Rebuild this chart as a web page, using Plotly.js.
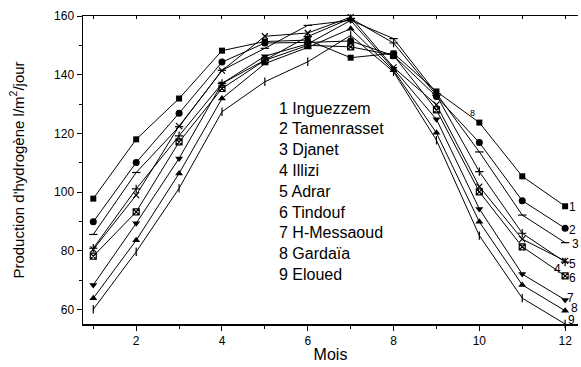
<!DOCTYPE html>
<html>
<head>
<meta charset="utf-8">
<script src="https://cdn.plot.ly/plotly-3.0.1.min.js"></script>
<style>html,body{margin:0;padding:0;background:#fff;}#chart{width:581px;height:367px;}</style>
</head>
<body>
<div id="chart"></div>
<script>
const months = [1,2,3,4,5,6,7,8,9,10,11,12];
const seriesNames = ["1 Inguezzem","2 Tamenrasset","3 Djanet","4 Illizi","5 Adrar","6 Tindouf","7 H-Messaoud","8 Gardaïa","9 Eloued"];
const inguezzem   = [97.8,118.0,131.9,148.2,151.3,151.8,145.8,147.3,134.3,123.7,105.4,95.2];
const tamenrasset = [89.9,110.1,126.9,144.3,150.8,151.0,151.5,146.5,132.6,116.9,97.1,87.7];
const djanet      = [85.6,106.7,122.3,141.5,149.0,156.8,158.5,152.3,133.6,113.7,92.2,82.8];
const illizi      = [80.9,101.1,119.2,137.0,145.0,153.0,159.2,150.8,133.0,107.0,86.0,76.2];
const adrar       = [80.5,99.0,122.5,141.4,153.1,154.2,159.6,142.5,129.8,101.9,84.0,76.6];
const tindouf     = [78.2,93.3,117.1,135.3,144.9,150.0,149.5,146.6,128.0,100.1,81.4,71.5];
const hmessaoud   = [68.4,89.4,111.5,137.0,146.3,150.5,158.5,142.0,124.8,94.3,72.1,63.3];
const gardaia     = [63.9,83.6,106.4,131.9,143.8,149.3,155.7,141.5,120.2,89.9,68.4,59.6];
const eloued      = [60.1,79.7,101.3,127.4,137.6,144.4,153.4,141.0,117.7,85.2,63.9,55.1];
const endLabels = ["1","2","3","4","5","6","7","8","9"];
const xTickVals = [2,4,6,8,10,12];
const yTickVals = [60,80,100,120,140,160];

const allSeries = [inguezzem,tamenrasset,djanet,illizi,adrar,tindouf,hmessaoud,gardaia,eloued];
const symbols = ["square","circle","line-ew","cross-thin","x-thin","square-x-open","triangle-down","triangle-up","line-ns"];
const sizes = [6,7,6,6,6,6,7,7,6];

const traces = allSeries.map((ys,i)=>({
  x: months, y: ys, type:'scatter', mode:'lines+markers', name: seriesNames[i],
  line:{color:'#000', width:1},
  marker:{symbol:symbols[i], size:sizes[i], color:'#000', line:{color:'#000', width:(i>=2&&i<=5)||i===8?1.2:0}},
  showlegend:false, cliponaxis:false
}));
traces.push({x:[1], y:[100], xaxis:'x2', type:'scatter', mode:'markers', marker:{opacity:0}, showlegend:false, hoverinfo:'skip'});

const annotations = [];
// legend block as text
seriesNames.forEach((n,i)=>{
  annotations.push({xref:'paper', yref:'paper', x:(277-83)/495, y:1-((108+i*20.8)-16)/308, text:n, showarrow:false, xanchor:'left', yanchor:'middle', font:{family:'Liberation Sans, Arial, sans-serif', size:16, color:'#000'}});
});
// end labels
const shifts = [[7,-1],[7,-2],[10,-1],[-8,-7],[7,-3],[7,-2],[5,2],[9,3],[6,4]];
endLabels.forEach((t,i)=>{
  annotations.push({xref:'x', yref:'y', x:12, y:allSeries[i][11], text:t, showarrow:false, xanchor:'center', yanchor:'middle', xshift:shifts[i][0], yshift:shifts[i][1], font:{family:'Liberation Sans, Arial, sans-serif', size:12, color:'#000'}});
});
// stray label near month 10
annotations.push({xref:'x', yref:'y', x:9.85, y:126.8, text:'8', showarrow:false, font:{family:'Liberation Sans, Arial, sans-serif', size:9, color:'#000'}});

const layout = {
  width:581, height:367,
  margin:{l:83, r:3, t:16, b:43},
  paper_bgcolor:'#fff', plot_bgcolor:'#fff',
  font:{family:'Liberation Sans, Arial, sans-serif', color:'#000'},
  xaxis:{range:[0.76,12.3], tickvals:xTickVals, ticks:'outside', ticklen:5, tickwidth:1, tickcolor:'#000',
    minor:{tickvals:[1,3,5,7,9,11], ticks:'outside', ticklen:3, tickcolor:'#000'},
    showline:true, linecolor:'#000', linewidth:1.5, showgrid:false, zeroline:false,
    tickfont:{size:12}, title:{text:'Mois', font:{size:16}, standoff:2}},
  xaxis2:{overlaying:'x', side:'top', range:[0.76,12.3], dtick:1, tick0:0, ticks:'inside', ticklen:3, tickcolor:'#000',
    showticklabels:false, showline:true, linecolor:'#000', linewidth:1.5, showgrid:false, zeroline:false},
  yaxis:{range:[55.1,160], tickvals:yTickVals, ticks:'outside', ticklen:5, tickwidth:1, tickcolor:'#000',
    minor:{tickvals:[70,90,110,130,150], ticks:'outside', ticklen:3, tickcolor:'#000'},
    showline:true, linecolor:'#000', linewidth:1.5, showgrid:false, zeroline:false,
    tickfont:{size:12}, title:{text:"Production d'hydrogène l/m<sup>2</sup>/jour", font:{size:15}, standoff:26}},
  annotations: annotations
};
Plotly.newPlot('chart', traces, layout, {staticPlot:true, displayModeBar:false});
</script>
</body>
</html>
